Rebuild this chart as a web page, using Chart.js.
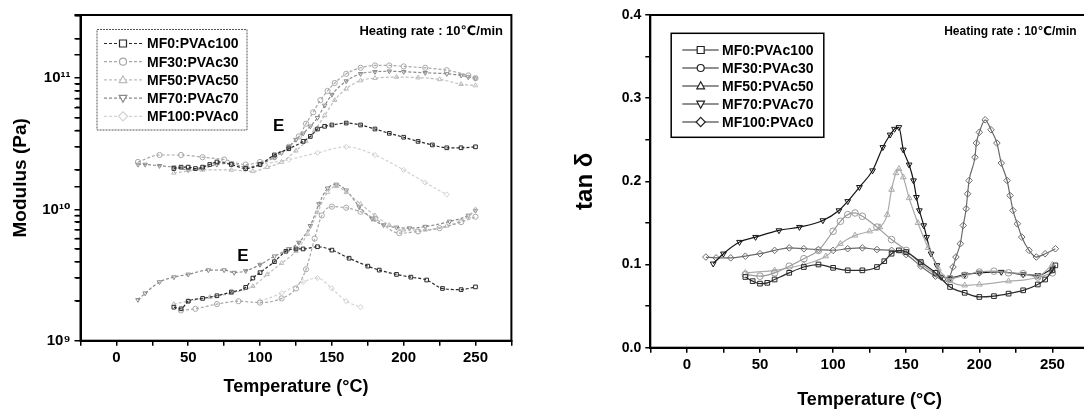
<!DOCTYPE html>
<html>
<head>
<meta charset="utf-8">
<script src="https://cdn.jsdelivr.net/npm/chart.js@4.4.0/dist/chart.umd.min.js"></script>
<style>
html, body { margin: 0; padding: 0; background: #fff; overflow: hidden; width: 1084px; height: 409px; }
#left { position: absolute; left: 0; top: 0; }
#right { position: absolute; left: 540px; top: 0; }
</style>
</head>
<body>
<canvas id="left" width="540" height="409"></canvas>
<canvas id="right" width="560" height="409"></canvas>
<script>
const names = ['MF0:PVAc100', 'MF30:PVAc30', 'MF50:PVAc50', 'MF70:PVAc70', 'MF100:PVAc0'];

// modulus, upper curves (Pa, x1e10)
const hiT0 = [40, 45, 50, 55, 60, 65, 70, 80, 90, 100, 110, 120, 130, 135, 140, 145, 150, 160, 170, 180, 190, 200, 210, 220, 230, 240, 250];
const hiE0 = [2.05, 2.1, 2.1, 2.05, 2.1, 2.2, 2.3, 2.2, 2.05, 2.2, 2.6, 2.9, 3.3, 3.6, 4.1, 4.3, 4.4, 4.55, 4.4, 4.1, 3.8, 3.55, 3.3, 3.1, 2.95, 2.95, 3.0];
const hiT30 = [15, 30, 45, 60, 75, 90, 100, 110, 120, 127, 132, 137, 142, 147, 152, 160, 170, 180, 190, 200, 215, 230, 245, 250];
const hiE30 = [2.3, 2.6, 2.6, 2.5, 2.4, 2.2, 2.3, 2.5, 3.0, 3.6, 4.5, 5.5, 6.8, 8.0, 9.2, 10.8, 12.0, 12.5, 12.5, 12.3, 12.0, 11.5, 10.5, 10.0];
const hiT50 = [40, 60, 80, 95, 105, 115, 125, 132, 138, 145, 152, 160, 170, 180, 195, 210, 225, 240, 250];
const hiE50 = [1.9, 2.0, 2.0, 1.95, 2.1, 2.3, 2.8, 3.3, 4.0, 5.2, 6.8, 8.3, 9.6, 10.0, 10.2, 10.1, 9.8, 9.0, 8.8];
const hiT70 = [15, 20, 30, 40, 50, 60, 70, 80, 90, 100, 110, 115, 120, 125, 130, 135, 140, 145, 150, 160, 170, 180, 190, 200, 215, 230, 240, 245, 250];
const hiE70 = [2.2, 2.2, 2.15, 2.1, 2.0, 2.05, 2.2, 2.25, 2.1, 2.2, 2.5, 2.7, 3.0, 3.4, 3.8, 4.3, 5.0, 6.2, 7.5, 9.5, 10.8, 11.2, 11.3, 11.2, 11.0, 10.8, 10.5, 10.2, 10.0];
const hiT100 = [100, 120, 140, 160, 180, 200, 215, 230];
const hiE100 = [2.2, 2.4, 2.7, 3.0, 2.6, 2.0, 1.6, 1.3];

// modulus, lower curves (Pa, x1e9)
const loT0 = [40, 45, 50, 60, 70, 80, 90, 95, 100, 110, 118, 125, 130, 140, 150, 162, 175, 183, 195, 205, 216, 227, 240, 250];
const loE0 = [1.8, 1.75, 2.0, 2.1, 2.2, 2.35, 2.55, 3.0, 3.3, 4.0, 4.8, 5.0, 5.0, 5.2, 4.9, 4.25, 3.7, 3.45, 3.2, 3.05, 2.9, 2.5, 2.45, 2.57];
const loT30 = [45, 55, 70, 85, 100, 115, 125, 132, 138, 143, 150, 160, 170, 180, 197, 210, 225, 240, 250];
const loE30 = [1.7, 1.75, 1.9, 2.0, 1.95, 2.1, 2.5, 3.5, 6.0, 9.0, 10.5, 10.3, 9.6, 8.5, 6.6, 6.8, 7.2, 8.0, 8.8];
const loT50 = [40, 50, 65, 80, 95, 105, 115, 125, 133, 140, 147, 153, 160, 170, 180, 190, 200, 215, 230, 245, 250];
const loE50 = [1.9, 2.0, 2.15, 2.3, 2.6, 3.2, 3.9, 4.8, 6.5, 9.5, 13.5, 15.0, 13.5, 11.0, 9.0, 7.6, 7.0, 7.0, 7.5, 8.8, 10.0];
const loT70 = [15, 20, 30, 40, 50, 64, 75, 82, 90, 100, 110, 120, 127, 135, 141, 147, 153, 160, 169, 178, 186, 195, 204, 215, 232, 245, 250];
const loE70 = [2.05, 2.3, 2.8, 3.05, 3.2, 3.45, 3.45, 3.3, 3.4, 3.8, 4.4, 5.0, 5.6, 7.5, 11, 14.5, 15.5, 14, 10.5, 8.5, 7.6, 7.3, 7.2, 7.4, 8.1, 9.0, 9.8];
const loT100 = [100, 115, 130, 140, 150, 160, 170];
const loE100 = [2.0, 2.3, 2.8, 3.0, 2.5, 2.0, 1.8];

// tan delta
const tdT0 = [40, 45, 50, 55, 60, 70, 80, 90, 100, 110, 120, 130, 135, 140, 145, 150, 160, 170, 180, 190, 200, 210, 220, 230, 240, 245, 250, 252];
const td0 = [.085, .08, .077, .078, .082, .09, .097, .1, .096, .093, .093, .097, .104, .113, .117, .115, .103, .09, .073, .066, .061, .062, .065, .069, .076, .082, .093, .099];
const tdT30 = [40, 50, 60, 70, 80, 90, 100, 105, 110, 115, 120, 130, 140, 150, 160, 170, 180, 190, 200, 210, 220, 230, 240, 250];
const td30 = [.088, .086, .09, .098, .107, .117, .14, .152, .16, .162, .158, .145, .13, .117, .101, .089, .083, .087, .091, .092, .09, .089, .085, .09];
const tdT50 = [40, 60, 80, 95, 105, 115, 125, 132, 137, 140, 143, 145, 148, 152, 158, 165, 172, 180, 190, 200, 220, 240, 250];
const td50 = [.09, .093, .1, .11, .125, .135, .14, .145, .16, .19, .21, .215, .205, .18, .15, .12, .095, .08, .075, .076, .08, .085, .1];
const tdT70 = [18, 25, 36, 47, 63, 77, 93, 104, 110, 118, 127, 134, 139, 142, 145, 148, 152, 155, 157, 159, 162, 164, 167, 171, 174, 180, 190, 200, 215, 230, 240, 250];
const td70 = [.101, .113, .127, .133, .141, .145, .153, .165, .176, .193, .213, .241, .256, .263, .265, .238, .22, .201, .181, .165, .147, .133, .113, .099, .085, .084, .088, .09, .091, .088, .087, .095];
const tdT100 = [13, 20, 30, 40, 50, 60, 70, 80, 90, 100, 110, 120, 130, 140, 150, 160, 170, 178, 182, 184, 187, 189, 191, 192, 193, 197, 198, 200, 204, 208, 212, 215, 219, 221, 223, 226, 229, 234, 239, 245, 252];
const td100 = [.109, .108, .108, .11, .113, .117, .12, .119, .118, .117, .119, .12, .118, .117, .112, .098, .086, .08, .097, .109, .125, .147, .167, .185, .201, .229, .246, .259, .274, .262, .246, .222, .201, .183, .165, .149, .133, .117, .109, .113, .119];

const xTicks = [0, 50, 100, 150, 200, 250];
const minorTicks = [2e9, 3e9, 4e9, 5e9, 6e9, 7e9, 8e9, 9e9, 2e10, 3e10, 4e10, 5e10, 6e10, 7e10, 8e10, 9e10, 2e11, 3e11];

const F = "'Liberation Sans', Arial, 'DejaVu Sans', sans-serif";
const markers = ['rect', 'circle', 'triangle', 'triangle', 'rectRot'];
const rotations = [0, 0, 0, 180, 0];
const leftColors = ['#2a2a2a', '#a8a8a8', '#bdbdbd', '#8a8a8a', '#d2d2d2'];
const rightColors = ['#2a2a2a', '#9a9a9a', '#ababab', '#141414', '#6a6a6a'];

function pts(T, V, k) {
    return T.map((t, i) => ({x: t, y: V[i] * k}));
}

function drawMarker(ctx, style, rot, x, y, r) {
    ctx.beginPath();
    if (style === 'rect') {
        ctx.rect(x - r, y - r, 2 * r, 2 * r);
    } else if (style === 'circle') {
        ctx.arc(x, y, r, 0, Math.PI * 2);
    } else if (style === 'rectRot') {
        ctx.moveTo(x, y - r * 1.3); ctx.lineTo(x + r * 1.3, y); ctx.lineTo(x, y + r * 1.3); ctx.lineTo(x - r * 1.3, y); ctx.closePath();
    } else {
        const s = rot ? -1 : 1;
        ctx.moveTo(x, y - s * r * 1.2); ctx.lineTo(x + r * 1.1, y + s * r * 0.8); ctx.lineTo(x - r * 1.1, y + s * r * 0.8); ctx.closePath();
    }
    ctx.fillStyle = '#fff';
    ctx.fill();
    ctx.stroke();
}

const frame = {
    id: 'frame',
    afterDraw(chart, args, opts) {
        const {ctx, chartArea: a} = chart;
        ctx.save();
        ctx.strokeStyle = '#000';
        ctx.lineWidth = 2;
        ctx.strokeRect(a.left, a.top, a.right - a.left, a.bottom - a.top);
        if (chart.scales.y.type === 'logarithmic') {
            // minor ticks on the log y axis
            const y = chart.scales.y;
            ctx.lineWidth = 1.5;
            ctx.beginPath();
            minorTicks.forEach(v => {
                const py = y.getPixelForValue(v);
                ctx.moveTo(a.left - 1, py);
                ctx.lineTo(a.left - 4.5, py);
            });
            ctx.stroke();
        }
        ctx.restore();
    }
};

const boxLegend = {
    id: 'boxLegend',
    afterDraw(chart, args, o) {
        const ctx = chart.ctx;
        ctx.save();
        ctx.fillStyle = '#fff';
        ctx.fillRect(o.x, o.y, o.w, o.h);
        ctx.strokeStyle = o.boxColor;
        ctx.lineWidth = o.boxWidth;
        ctx.setLineDash(o.boxDash);
        ctx.strokeRect(o.x, o.y, o.w, o.h);
        names.forEach((n, i) => {
            const y = o.row0 + i * o.rowH;
            ctx.strokeStyle = o.colors[i];
            ctx.lineWidth = 1.2;
            ctx.setLineDash(o.dash);
            ctx.beginPath();
            ctx.moveTo(o.x0, y); ctx.lineTo(o.x1, y);
            ctx.stroke();
            ctx.setLineDash([]);
            drawMarker(ctx, markers[i], rotations[i], o.mx, y, 3.5);
            ctx.fillStyle = '#000';
            ctx.font = 'bold 14px ' + F;
            ctx.textBaseline = 'middle';
            ctx.textAlign = 'left';
            ctx.fillText(n, o.tx, y + 1);
        });
        ctx.restore();
    }
};

const notes = {
    id: 'notes',
    afterDraw(chart, args, o) {
        const ctx = chart.ctx;
        ctx.save();
        ctx.fillStyle = '#000';
        ctx.textBaseline = 'middle';
        o.items.forEach(it => {
            ctx.font = it.font;
            ctx.textAlign = it.align || 'center';
            let x = it.x, y = it.y;
            if (it.xv !== undefined) {
                x = chart.scales.x.getPixelForValue(it.xv);
                y = chart.scales.y.getPixelForValue(it.yv);
            }
            ctx.fillText(it.text, x, y);
        });
        ctx.restore();
    }
};

function makeSet(label, data, i, colors, r, dash) {
    return {
        label: label,
        data: data,
        borderColor: colors[i],
        borderWidth: 1.2,
        borderDash: dash,
        pointStyle: markers[i],
        pointRotation: rotations[i],
        pointRadius: r,
        pointBorderWidth: 1,
        pointBorderColor: colors[i],
        pointBackgroundColor: 'rgba(255,255,255,0)',
        cubicInterpolationMode: 'monotone',
        fill: false
    };
}

function xScale(h, titlePad, titleFont) {
    return {
        type: 'linear', min: -25, max: 275,
        afterFit: s => { s.height = h; },
        afterBuildTicks: s => {
            const t = [];
            for (let v = -25; v <= 275; v += 25) t.push({value: v});
            s.ticks = t;
        },
        ticks: {
            autoSkip: false, maxRotation: 0, color: '#000', padding: 3,
            font: {family: F, size: 15, weight: 'bold'},
            callback: v => xTicks.includes(v) ? String(v) : ''
        },
        grid: {drawOnChartArea: false, drawTicks: true, tickLength: 5, color: '#000', lineWidth: 1.5},
        border: {display: true, color: '#000', width: 2},
        title: {display: true, text: 'Temperature (°C)', color: '#000', font: titleFont, padding: titlePad}
    };
}

// left: modulus
const hiSets = [[hiT0, hiE0], [hiT30, hiE30], [hiT50, hiE50], [hiT70, hiE70], [hiT100, hiE100]];
const loSets = [[loT0, loE0], [loT30, loE30], [loT50, loE50], [loT70, loE70], [loT100, loE100]];
const leftSets = [];
names.forEach((n, i) => {
    leftSets.push(makeSet(n, pts(hiSets[i][0], hiSets[i][1], 1e10), i, leftColors, 2.6, [3, 2]));
    leftSets.push(makeSet(n + ' low', pts(loSets[i][0], loSets[i][1], 1e9), i, leftColors, 2.6, [3, 2]));
});

const sup = {9: '10⁹', 10: '10¹⁰', 11: '10¹¹'};

new Chart(document.getElementById('left'), {
    type: 'line',
    data: {datasets: leftSets},
    plugins: [frame, boxLegend, notes],
    options: {
        responsive: false,
        animation: false,
        layout: {padding: {top: 15, right: 28.6, left: 0, bottom: 0}},
        plugins: {
            legend: {display: false},
            tooltip: {enabled: false},
            boxLegend: {
                x: 97, y: 29.5, w: 150, h: 100.5, boxColor: '#555', boxWidth: 1, boxDash: [2, 1],
                row0: 43.5, rowH: 18.2, x0: 104, x1: 142, mx: 123, tx: 147,
                colors: leftColors, dash: [3, 2]
            },
            notes: {items: [
                {text: 'Heating rate : 10℃/min', x: 503, y: 31.7, align: 'right', font: 'bold 13px ' + F},
                {text: 'E', xv: 113, yv: 4.28e10, font: 'bold 17px ' + F},
                {text: 'E', xv: 88, yv: 4.37e9, font: 'bold 17px ' + F}
            ]}
        },
        scales: {
            x: xScale(68.3, {top: 0, bottom: 11.5}, {family: F, size: 18, weight: 'bold', lineHeight: 1.2}),
            y: {
                type: 'logarithmic', min: 1e9, max: 3.03e11,
                afterFit: s => { s.width = 80.5; },
                ticks: {
                    autoSkip: false, color: '#000', padding: 4,
                    font: {family: F, size: 15, weight: 'bold'},
                    callback: v => {
                        const l = Math.log10(v);
                        return Math.abs(l - Math.round(l)) < 1e-6 && sup[Math.round(l)] ? sup[Math.round(l)] : '';
                    }
                },
                grid: {drawOnChartArea: false, drawTicks: true, tickLength: 6, color: '#000', lineWidth: 1.5},
                border: {display: true, color: '#000', width: 2},
                title: {display: true, text: 'Modulus (Pa)', color: '#000', font: {family: F, size: 19, weight: 'bold', lineHeight: 1.2}, padding: {top: 9.3, bottom: 0}}
            }
        }
    }
});

// right: tan delta
const tdSets = [[tdT0, td0], [tdT30, td30], [tdT50, td50], [tdT70, td70], [tdT100, td100]];
const rightSets = names.map((n, i) => makeSet(n, pts(tdSets[i][0], tdSets[i][1], 1), i, rightColors, 3.3, []));

new Chart(document.getElementById('right'), {
    type: 'line',
    data: {datasets: rightSets},
    plugins: [frame, boxLegend, notes],
    options: {
        responsive: false,
        animation: false,
        layout: {padding: {top: 15, right: 11, left: 0, bottom: 0}},
        plugins: {
            legend: {display: false},
            tooltip: {enabled: false},
            boxLegend: {
                x: 131.2, y: 33.3, w: 152.6, h: 104, boxColor: '#000', boxWidth: 1.5, boxDash: [],
                row0: 50, rowH: 18, x0: 142.3, x1: 178.7, mx: 160.7, tx: 182,
                colors: rightColors.map(() => '#222'), dash: []
            },
            notes: {items: [
                {text: 'Heating rate : 10℃/min', x: 536.7, y: 31.7, align: 'right', font: 'bold 12px ' + F}
            ]}
        },
        scales: {
            x: xScale(61.3, {top: 0, bottom: 0}, {family: F, size: 18, weight: 'bold', lineHeight: 1.0}),
            y: {
                type: 'linear', min: 0, max: 0.4,
                afterFit: s => { s.width = 110.3; },
                ticks: {
                    stepSize: 0.05, autoSkip: false, color: '#000', padding: 4,
                    font: {family: F, size: 14, weight: 'bold'},
                    callback: v => Math.abs(v * 10 - Math.round(v * 10)) < 1e-6 ? v.toFixed(1) : ''
                },
                grid: {drawOnChartArea: false, drawTicks: true, tickLength: 5, color: '#000', lineWidth: 1.5},
                border: {display: true, color: '#000', width: 2},
                title: {display: true, text: 'tan δ', color: '#000', font: {family: F, size: 24, weight: 'bold', lineHeight: 1.2}, padding: {top: 30.6, bottom: 0}}
            }
        }
    }
});
</script>
</body>
</html>
